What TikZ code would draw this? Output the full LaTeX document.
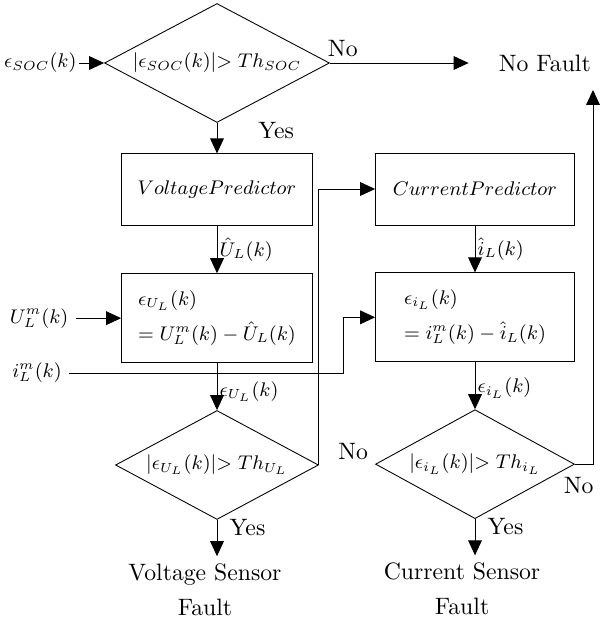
\documentclass[tikz,border=0pt]{standalone}
\usepackage{amsmath}
\usepackage{amssymb}
\usepackage{tikz}
\usetikzlibrary{shapes.geometric, arrows.meta, positioning}

\begin{document}
\begin{tikzpicture}[
    x=0.016cm, y=-0.016cm, font=\small,
    decision/.style={draw,diamond,inner sep=0pt},
    block/.style={draw,minimum height=1.152cm},
    flow/.style={-{Triangle[length=2.4mm,width=2.2mm]}},
    lbl/.style={inner sep=1pt},
    txt/.style={font=\fontsize{10.8}{13}\selectfont}
  ]
    \useasboundingbox (0,0) rectangle (600,623);

    \node[decision,minimum width=3.6cm,minimum height=1.904cm] (socchk) at (217,63) {};
    \node (socchktxt) at (socchk.center) {$|\epsilon_{SOC}(k)|{>}\;Th_{SOC}$};
    \node[lbl,left=0.4cm of socchk] (socin) {$\epsilon_{SOC}(k)$};
    \node[txt,right=2.58cm of socchk] (nofault) {No Fault};
    \draw[flow] (socin) -- (socchk);
    \draw[flow,shorten >=0.36cm] (socchk) -- node[txt,lbl,pos=0.08,above=1.8pt] (nosoc) {No} (nofault);

    \node[block,minimum width=3.056cm,below=0.488cm of socchk] (vpred) {$Voltage Predictor$};
    \node[block,minimum width=3.184cm] (cpred) at (475,189) {$Current Predictor$};
    \draw[flow] (socchk) -- node[txt,lbl,pos=0.25,right=0.62cm] (yessoc) {Yes} (vpred);

    \node[block,minimum width=3.056cm,minimum height=1.424cm,align=left,below=0.752cm of vpred] (uerr)
      {$\epsilon_{U_L}(k)$\\[5pt] $=U_L^m(k)-\hat{U}_L(k)$};
    \node[block,minimum width=3.184cm,minimum height=1.424cm,align=left,below=0.752cm of cpred] (ierr)
      {$\epsilon_{i_L}(k)$\\[5pt] $=i_L^m(k)-\hat{i}_L(k)$};
    \draw[flow] (vpred) -- node[lbl,right] (uhat) {$\hat{U}_L(k)$} (uerr);
    \draw[flow] (cpred) -- node[lbl,right] (ihat) {$\hat{i}_L(k)$} (ierr);

    \node[left=0.72cm of uerr] (umeas) {$U_L^m(k)$};
    \node (imeas) at (37,373) {$i_L^m(k)$};
    \coordinate (ibend) at ([xshift=-0.512cm]ierr.west);
    \draw[flow] (umeas) -- (uerr);
    \draw[flow] (imeas.east) -| (ibend) -- (ierr.west);

    \node[decision,minimum width=3.248cm,minimum height=1.744cm,below=0.752cm of uerr] (uchk) {};
    \node (uchktxt) at (uchk.center) {$|\epsilon_{U_L}(k)|{>}\;Th_{U_L}$};
    \node[decision,minimum width=3.184cm,minimum height=1.744cm,below=0.752cm of ierr] (ichk) {};
    \node (ichktxt) at (ichk.center) {$|\epsilon_{i_L}(k)|{>}\;Th_{i_L}$};
    \draw[flow] (uerr) -- node[lbl,pos=0.6,right] (uerrlbl) {$\epsilon_{U_L}(k)$} (uchk);
    \draw[flow] (ierr) -- node[lbl,pos=0.55,right] (ierrlbl) {$\epsilon_{i_L}(k)$} (ichk);

    \draw[flow] (uchk.east) |- (cpred.west);
    \coordinate (nfin) at (593,90);
    \draw[flow] (ichk.east) -| (nfin);
    \node[txt,lbl,above left=0.03cm and 0.07cm of ichk.west] (noileft) {No};
    \node[txt,lbl,anchor=north west] (noiright) at ([xshift=-0.22cm,yshift=-0.17cm]ichk.east) {No};

    \node[txt,align=center,below=0.58cm of uchk,xshift=-0.192cm] (vfault) {Voltage Sensor\\[3pt]Fault};
    \node[txt,align=center,below=0.58cm of ichk,xshift=-0.208cm] (cfault) {Current Sensor\\[3pt]Fault};
    \draw[flow] (uchk.south) -- node[txt,lbl,pos=0.2,right=0.16cm] (yesu) {Yes} (uchk.south |- vfault.north);
    \draw[flow] (ichk.south) -- node[txt,lbl,pos=0.2,right=0.16cm] (yesi) {Yes} (ichk.south |- cfault.north);
  \end{tikzpicture}
\end{document}
